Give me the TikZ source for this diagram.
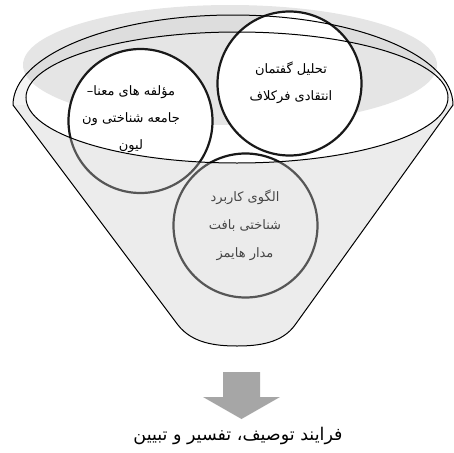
\documentclass[tikz,border=0pt]{standalone}
\usepackage{fontspec}
\newfontfamily\arabicfont[Script=Arabic]{DejaVu Sans}
\TeXXeTstate=1
\definecolor{bandgray}{RGB}{243,243,243}
\definecolor{hilite}{RGB}{190,190,190}
\definecolor{bodygray}{RGB}{200,200,200}
\definecolor{arrowgray}{RGB}{166,166,166}
\begin{document}
\begin{tikzpicture}[x=1pt,y=-1pt,
  rimline/.style={draw=black,line width=1pt},
  circ/.style={circle,draw=black!90,line width=2.2pt,fill=white,minimum size=144pt,inner sep=0pt},
  ctext/.style={font=\arabicfont\fontsize{13}{27}\selectfont,align=center,text=black,inner sep=0pt},
  captext/.style={font=\arabicfont\fontsize{17.5}{20}\selectfont,inner sep=0pt}]
\useasboundingbox (0,0) rectangle (453,453);
% band of the rim (upper half of the rim ellipse)
\fill[bandgray] (13,105) arc[start angle=180,end angle=360,x radius=220,y radius=90] -- cycle;
% opening of the funnel
\fill[white] (237,97.5) ellipse[x radius=211,y radius=65.5];
% highlight
\fill[hilite,fill opacity=0.4] (230,65) ellipse[x radius=207,y radius=60];
% circles
\node[circ] (cR) at (289.5,83.5) {};
\node[circ] (cL) at (140.5,121) {};
\node[circ] (cB) at (245.5,225.5) {};
\node[ctext] (tR) at (291,83) {\beginR تحلیل گفتمان\endR\\\beginR انتقادی فرکلاف\endR};
\node[ctext] (tL) at (131,119) {\beginR مؤلفه های معنا–\endR\\\beginR جامعه شناختی ون\endR\\\beginR لیون\endR};
\node[ctext,font=\arabicfont\fontsize{13}{28}\selectfont] (tB) at (245,225) {\beginR الگوی کاربرد\endR\\\beginR شناختی بافت\endR\\\beginR مدار هایمز\endR};
% funnel body (semi transparent, over the circles)
\begin{scope}
  \clip (13,105) -- (178,325) .. controls (192,343) and (215,346) .. (237,346)
    .. controls (259,346) and (282,343) .. (295,325) -- (453,105) -- cycle;
  \fill[bodygray,fill opacity=0.35,even odd rule]
    (0,0) rectangle (453,453)
    (237,97.5) ellipse[x radius=211,y radius=65.5];
\end{scope}
% outlines
\draw[rimline] (13,105) arc[start angle=180,end angle=360,x radius=220,y radius=90];
\draw[rimline] (13,105) -- (178,325) .. controls (192,343) and (215,346) .. (237,346)
  .. controls (259,346) and (282,343) .. (295,325) -- (453,105);
\draw[rimline] (237,97.5) ellipse[x radius=211,y radius=65.5];
% arrow
\fill[arrowgray] (223,372) -- (260,372) -- (260,397) -- (280,397) -- (241.5,419)
  -- (203,397) -- (223,397) -- cycle;
\node[captext] (cap) at (238,436) {\beginR فرایند توصیف، تفسیر و تبیین\endR};
\end{tikzpicture}
\end{document}
